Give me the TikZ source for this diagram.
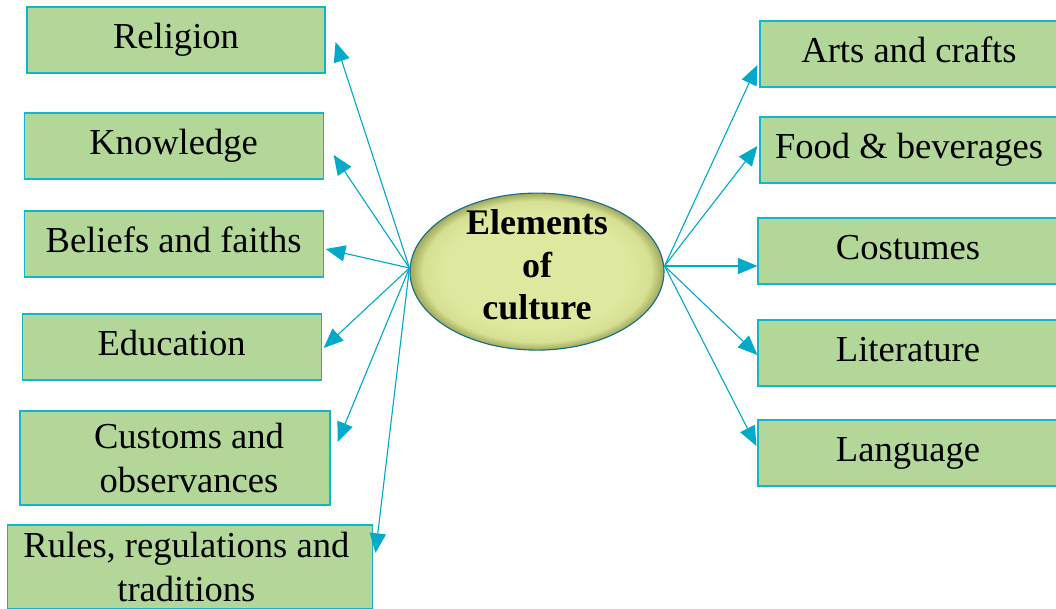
\documentclass[tikz,border=0pt]{standalone}
\usepackage{fontspec}
\setmainfont{Liberation Serif}
\usetikzlibrary{arrows.meta, shapes.geometric}

\definecolor{boxgreen}{RGB}{179,215,153}
\definecolor{boxline}{RGB}{20,180,205}
\definecolor{arrowcol}{RGB}{0,170,200}
\definecolor{ovalin}{RGB}{224,232,160}
\definecolor{ovalmid}{RGB}{214,224,146}
\definecolor{ovalout}{RGB}{160,168,90}
\definecolor{ovalline}{RGB}{20,110,140}

\pgfdeclareradialshading{ovalshade}{\pgfpoint{0bp}{0bp}}{color(0bp)=(ovalin); color(18bp)=(ovalin); color(22.5bp)=(ovalmid); color(25bp)=(ovalout); color(50bp)=(ovalout)}

\begin{document}
\begin{tikzpicture}[
    elem/.style={draw=boxline, fill=boxgreen, line width=0.8pt, minimum width=7.45cm, minimum height=1.65cm,
                 align=center, font=\fontsize{26}{31}\selectfont},
    single/.style={elem, text height=0.65cm, text depth=0.25cm},
    link/.style={->, >={Triangle[length=14pt,width=11.5pt]}, draw=arrowcol, line width=0.8pt}
]
    \useasboundingbox (0,0) rectangle (26.4,-15.2);

    \node[ellipse, draw=ovalline, line width=0.8pt, shading=ovalshade,
          minimum width=6.35cm, minimum height=3.925cm, inner sep=0pt,
          label={[align=center, yshift=0.17cm, font=\fontsize{25.6}{30}\selectfont\bfseries]center:Elements\\of\\culture}]
          (cul) at (13.425,-6.79) {};

    \node[single] (rel) at (4.4,-1.0) {Religion};
    \node[single, minimum width=7.475cm] (kno) at (4.34,-3.65) {Knowledge};
    \node[single, minimum width=7.475cm] (bel) at (4.34,-6.1) {Beliefs and faiths};
    \node[single, minimum width=7.475cm] (edu) at (4.29,-8.675) {Education};
    \node[elem, minimum width=7.75cm, minimum height=2.35cm] (cus) at (4.375,-11.45) {\hspace*{0.7cm}Customs and\\\hspace*{0.7cm}observances};
    \node[elem, minimum width=9.125cm, minimum height=2.1cm, inner sep=1pt] (rul) at (4.76,-14.175) {\hspace*{-0.2cm}Rules, regulations and\\\hspace*{-0.2cm}traditions};

    \node[single] (art) at (22.725,-1.35) {Arts and crafts};
    \node[single] (foo) at (22.725,-3.75) {Food \& beverages};
    \node[single, minimum width=7.5cm] (cos) at (22.7,-6.275) {Costumes};
    \node[single, minimum width=7.5cm] (lit) at (22.7,-8.825) {Literature};
    \node[single, minimum width=7.5cm] (lan) at (22.7,-11.325) {Language};

    \draw[link] ([yshift=0.09cm]cul.west) -- ([xshift=0.25cm, yshift=-0.05cm]rel.east);
    \draw[link] ([yshift=0.09cm]cul.west) -- ([xshift=0.25cm, yshift=-0.225cm]kno.east);
    \draw[link] ([yshift=0.09cm]cul.west) -- ([xshift=0.05cm, yshift=-0.125cm]bel.east);
    \draw[link] ([yshift=0.09cm]cul.west) -- ([xshift=0.05cm, yshift=-0.025cm]edu.east);
    \draw[link] ([yshift=0.09cm]cul.west) -- ([xshift=0.175cm, yshift=0.4cm]cus.east);
    \draw[link] ([yshift=0.09cm]cul.west) -- ([xshift=0.05cm, yshift=0.35cm]rul.east);

    \draw[link] ([yshift=0.14cm]cul.east) -- ([xshift=-0.05cm, yshift=-0.275cm]art.west);
    \draw[link] ([yshift=0.14cm]cul.east) -- ([xshift=-0.05cm, yshift=0.1cm]foo.west);
    \draw[link] ([yshift=0.14cm]cul.east) -- ([yshift=-0.375cm]cos.west);
    \draw[link] ([yshift=0.14cm]cul.east) -- ([yshift=-0.05cm]lit.west);
    \draw[link] ([yshift=0.14cm]cul.east) -- ([xshift=-0.025cm, yshift=0.175cm]lan.west);

\end{tikzpicture}
\end{document}
